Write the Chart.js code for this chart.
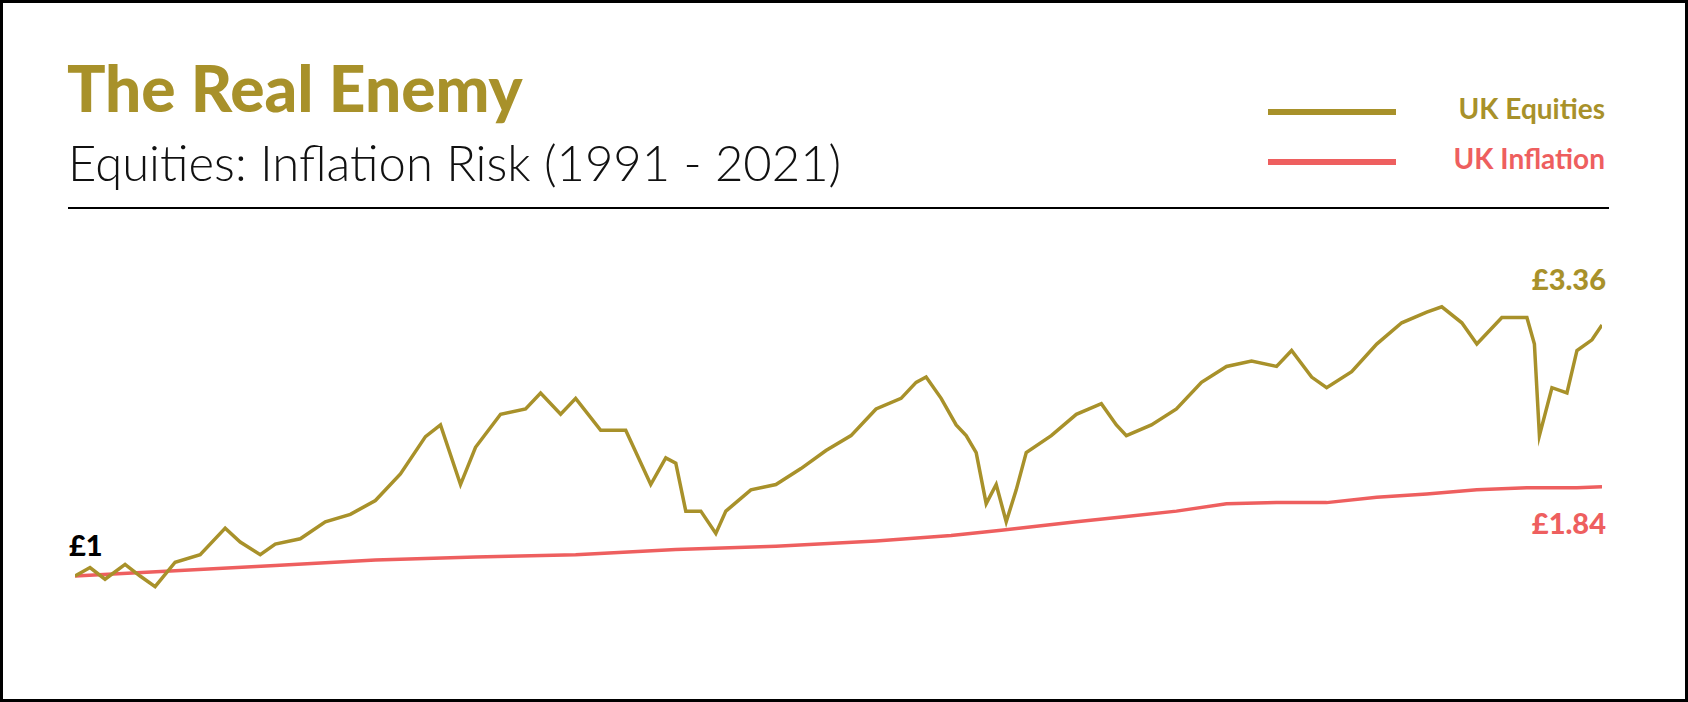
<!DOCTYPE html>
<html>
<head>
<meta charset="utf-8">
<script src="https://cdn.jsdelivr.net/npm/chart.js@4"></script>
<style>
  html, body { margin: 0; padding: 0; background: #fff; }
  #frame { position: relative; width: 1688px; height: 702px; box-sizing: border-box; border: 3px solid #000; font-family: Lato, "Open Sans", sans-serif; overflow: hidden; }
  .abs { position: absolute; white-space: nowrap; }
  #title { left: 64px; top: 46px; font-size: 64px; font-weight: 900; color: #A8912A; }
  #subtitle { left: 65px; top: 130px; font-size: 49px; font-weight: 300; color: #111; }
  #rule { left: 65px; top: 204px; width: 1541px; height: 2px; background: #000; }
  .legline { position: absolute; left: 1265px; width: 128px; height: 6px; }
  .legtxt { right: 80px; font-size: 28px; font-weight: 700; }
  .lbl { font-size: 29px; font-weight: 900; }
  #wrap { position: absolute; left: 72px; top: 227px; width: 1527px; height: 430px; }
</style>
</head>
<body>
<div id="frame">
  <div class="abs" id="title">The Real Enemy</div>
  <div class="abs" id="subtitle">Equities: Inflation Risk (1991 - 2021)</div>
  <div class="abs" id="rule"></div>
  <div class="legline" style="top:106px;background:#A8912A"></div>
  <div class="legline" style="top:156px;background:#EE5F5F"></div>
  <div class="abs legtxt" style="top:88px;color:#A8912A">UK Equities</div>
  <div class="abs legtxt" style="top:138px;color:#EE5F5F">UK Inflation</div>
  <div class="abs lbl" style="left:66px;top:524px;color:#000">£1</div>
  <div class="abs lbl" style="right:79px;top:258px;color:#A8912A">£3.36</div>
  <div class="abs lbl" style="right:79px;top:502px;color:#EE5F5F">£1.84</div>
  <div id="wrap"><canvas id="c"></canvas></div>
</div>
<script>
'use strict';

var equityYears = [1991.0, 1991.3, 1991.6, 1992.0, 1992.3, 1992.6, 1993.0, 1993.5, 1994.0, 1994.3, 1994.7, 1995.0, 1995.5,
  1996.0, 1996.5, 1997.0, 1997.5, 1998.0, 1998.3, 1998.7, 1999.0, 1999.5, 2000.0, 2000.3, 2000.7, 2001.0, 2001.5,
  2002.0, 2002.5, 2002.8, 2003.0, 2003.2, 2003.5, 2003.8, 2004.0, 2004.5, 2005.0, 2005.5, 2006.0, 2006.5, 2007.0,
  2007.5, 2007.8, 2008.0, 2008.3, 2008.6, 2008.8, 2009.0, 2009.2, 2009.4, 2009.6, 2009.8, 2010.0, 2010.5, 2011.0,
  2011.5, 2011.8, 2012.0, 2012.5, 2013.0, 2013.5, 2014.0, 2014.5, 2015.0, 2015.3, 2015.7, 2016.0, 2016.5, 2017.0,
  2017.5, 2018.0, 2018.3, 2018.7, 2019.0, 2019.5, 2020.0, 2020.15, 2020.25, 2020.5, 2020.8, 2021.0, 2021.3, 2021.5];
var equityValues = [1.00, 1.08, 0.97, 1.11, 1.00, 0.90, 1.13, 1.20, 1.45, 1.32, 1.20, 1.30, 1.35,
  1.51, 1.58, 1.71, 1.96, 2.31, 2.42, 1.86, 2.21, 2.52, 2.57, 2.72, 2.52, 2.67, 2.37,
  2.37, 1.86, 2.11, 2.06, 1.61, 1.61, 1.40, 1.61, 1.81, 1.86, 2.01, 2.18, 2.32, 2.57,
  2.67, 2.82, 2.87, 2.67, 2.42, 2.32, 2.16, 1.68, 1.86, 1.51, 1.81, 2.16, 2.32, 2.52,
  2.62, 2.42, 2.32, 2.42, 2.57, 2.82, 2.97, 3.02, 2.97, 3.12, 2.87, 2.77, 2.92, 3.18,
  3.38, 3.48, 3.53, 3.38, 3.18, 3.43, 3.43, 3.18, 2.32, 2.77, 2.72, 3.12, 3.22, 3.36];

var inflationYears = [1991, 1993, 1995, 1997, 1999, 2001, 2003, 2005, 2007, 2008.5, 2009.5, 2011, 2012, 2013,
  2014, 2015, 2016, 2017, 2018, 2019, 2020, 2021, 2021.5];
var inflationValues = [1.00, 1.05, 1.10, 1.15, 1.18, 1.20, 1.25, 1.28, 1.33, 1.38, 1.43, 1.51, 1.56, 1.61,
  1.68, 1.69, 1.69, 1.74, 1.77, 1.81, 1.83, 1.83, 1.84];

function toPoints(xs, ys) {
  return xs.map(function (x, i) { return { x: x, y: ys[i] }; });
}

new Chart(document.getElementById('c').getContext('2d'), {
  type: 'line',
  data: {
    datasets: [
      { data: toPoints(equityYears, equityValues), borderColor: '#A8912A', borderWidth: 3.5, pointRadius: 0, tension: 0, order: 1 },
      { data: toPoints(inflationYears, inflationValues), borderColor: '#EE5F5F', borderWidth: 3.5, pointRadius: 0, tension: 0, order: 2 }
    ]
  },
  options: {
    responsive: true,
    maintainAspectRatio: false,
    animation: false,
    layout: { padding: 0 },
    plugins: { legend: { display: false }, tooltip: { enabled: false } },
    scales: {
      x: { type: 'linear', min: 1991, max: 2021.5, display: false },
      y: { min: 0.211, max: 4.252, display: false }
    }
  }
});
</script>
</body>
</html>
